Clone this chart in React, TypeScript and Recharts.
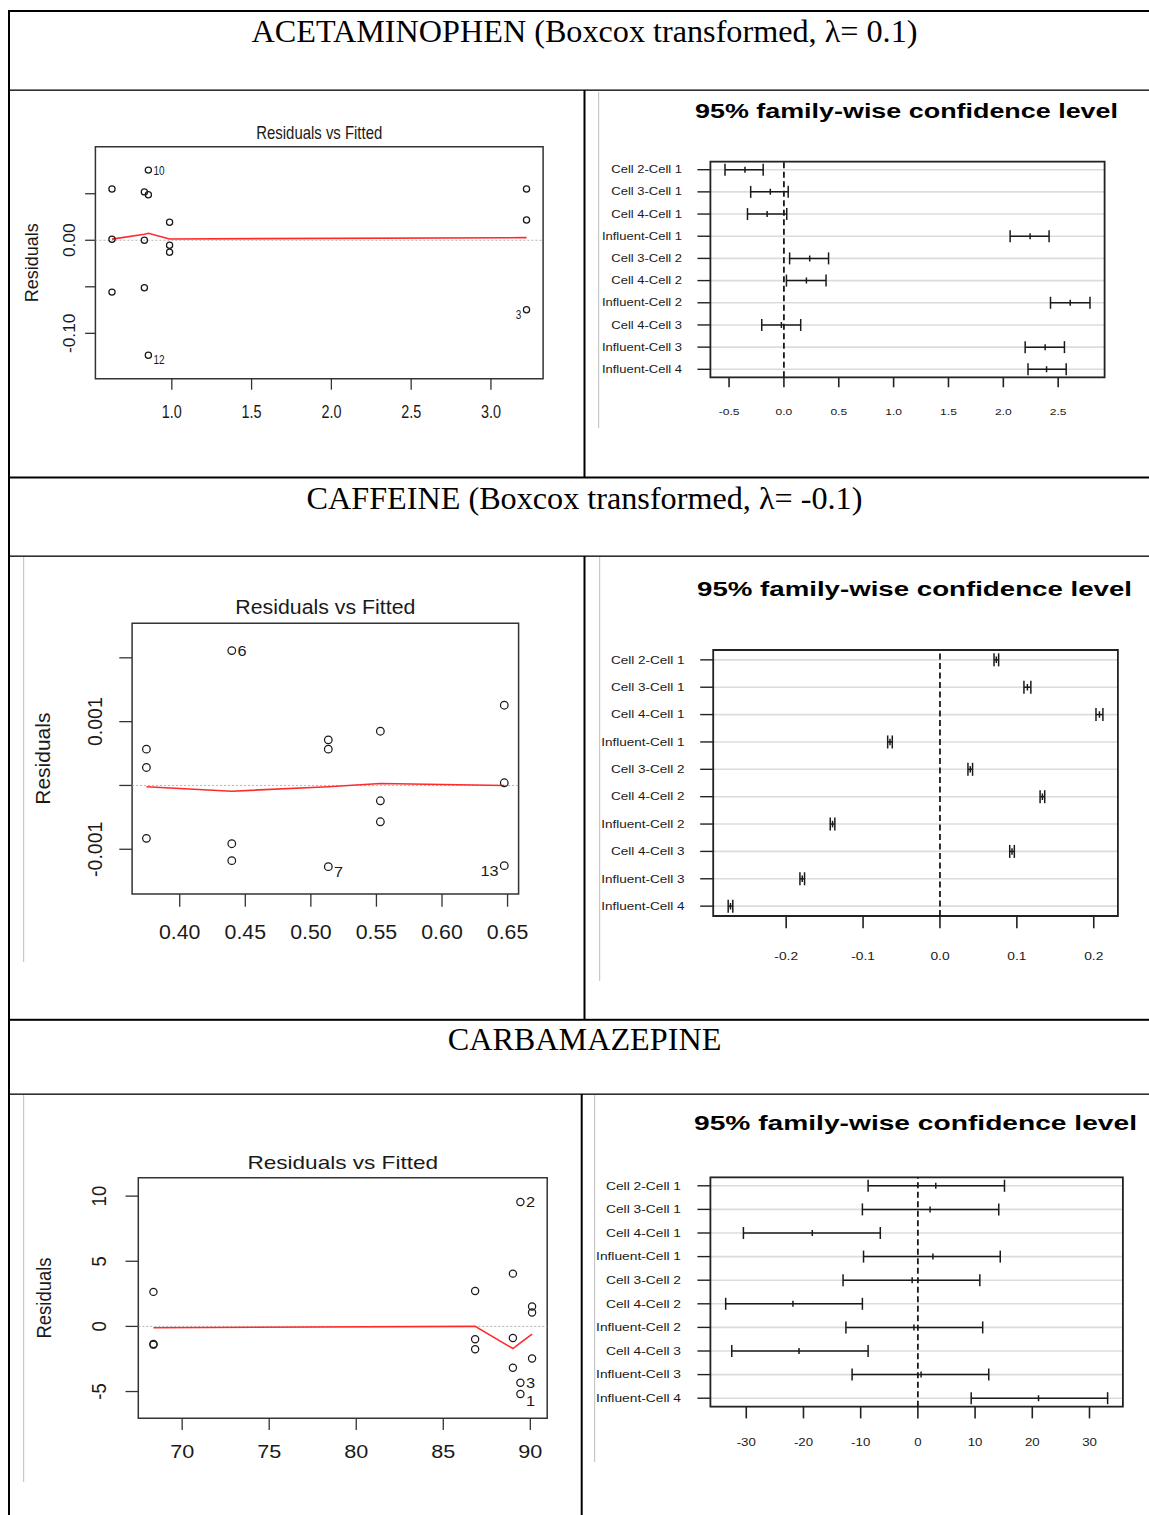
import React from 'react';
import {
  ScatterChart,
  Scatter,
  XAxis,
  YAxis,
  ReferenceLine,
  ReferenceArea,
  CartesianGrid,
  ErrorBar,
} from 'recharts';

const SANS = '"Liberation Sans", Arial, Helvetica, sans-serif';
const SERIF = '"Liberation Serif", "Times New Roman", Times, serif';
const INK = '#1a1a1a';

// ---------------- captions ----------------
const rowTitles = [
  'ACETAMINOPHEN (Boxcox transformed, λ= 0.1)',
  'CAFFEINE (Boxcox transformed, λ= -0.1)',
  'CARBAMAZEPINE',
];
const residualsTitle = 'Residuals vs Fitted';
const residualsAxisTitle = 'Residuals';
const tukeyTitle = '95% family-wise confidence level';

// ---------------- Tukey comparisons ----------------
const comparisons = [
  'Cell 2-Cell 1',
  'Cell 3-Cell 1',
  'Cell 4-Cell 1',
  'Influent-Cell 1',
  'Cell 3-Cell 2',
  'Cell 4-Cell 2',
  'Influent-Cell 2',
  'Cell 4-Cell 3',
  'Influent-Cell 3',
  'Influent-Cell 4',
];

// ---------------- ACETAMINOPHEN ----------------
const acetFitted = [0.625, 0.625, 0.625, 0.828, 0.828, 0.828, 0.853, 0.853, 0.853, 0.986, 0.986, 0.986, 3.223, 3.223, 3.223];
const acetResiduals = [0.055, 0.001, -0.0557, 0.052, 0.0, -0.051, 0.049, 0.0754, -0.1236, 0.0193, -0.0054, -0.0129, 0.055, 0.0218, -0.0746];
const acetIdLabels = [
  { index: 7, text: '10', side: 'right' },
  { index: 8, text: '12', side: 'right' },
  { index: 14, text: '3', side: 'left' },
];
const acetSmoothX = [0.625, 0.828, 0.853, 0.986, 3.223];
const acetSmoothY = [0.0012, 0.0065, 0.0075, 0.0014, 0.0028];
const acetResXTicks = [1, 1.5, 2, 2.5, 3];
const acetResXLabels = ['1.0', '1.5', '2.0', '2.5', '3.0'];
const acetResYTicks = [-0.1, -0.05, 0, 0.05];
const acetResYLabels = ['-0.10', '', '0.00', ''];

const acetLwr = [-0.537, -0.303, -0.332, 2.062, 0.052, 0.023, 2.43, -0.202, 2.199, 2.225];
const acetDiff = [-0.355, -0.124, -0.153, 2.244, 0.235, 0.205, 2.61, -0.023, 2.381, 2.394];
const acetUpr = [-0.189, 0.039, 0.026, 2.417, 0.407, 0.384, 2.79, 0.153, 2.557, 2.573];
const acetTukeyTicks = [-0.5, 0, 0.5, 1, 1.5, 2, 2.5];
const acetTukeyLabels = ['-0.5', '0.0', '0.5', '1.0', '1.5', '2.0', '2.5'];

// ---------------- CAFFEINE ----------------
const caffFitted = [0.3746, 0.3746, 0.3746, 0.4397, 0.4397, 0.4397, 0.5133, 0.5133, 0.5133, 0.553, 0.553, 0.553, 0.6475, 0.6475, 0.6475];
const caffResiduals = [0.000569, 0.000282, -0.000829, 0.002113, -0.000913, -0.001179, 0.000715, 0.000569, -0.001273, 0.00085, -0.00024, -0.000569, 0.001257, 0.0000417, -0.001257];
const caffIdLabels = [
  { index: 3, text: '6', side: 'right' },
  { index: 8, text: '7', side: 'right' },
  { index: 14, text: '13', side: 'left' },
];
const caffSmoothX = [0.3746, 0.4397, 0.5133, 0.553, 0.6475];
const caffSmoothY = [-0.00002, -0.00009, -0.00002, 0.00003, 0.0];
const caffResXTicks = [0.4, 0.45, 0.5, 0.55, 0.6, 0.65];
const caffResXLabels = ['0.40', '0.45', '0.50', '0.55', '0.60', '0.65'];
const caffResYTicks = [-0.001, 0, 0.001, 0.002];
const caffResYLabels = ['-0.001', '', '0.001', ''];

const caffLwr = [0.0703, 0.1092, 0.2029, -0.068, 0.0364, 0.1302, -0.1427, 0.0907, -0.1821, -0.2754];
const caffDiff = [0.0733, 0.1137, 0.2074, -0.065, 0.0394, 0.1332, -0.1397, 0.0937, -0.1791, -0.2724];
const caffUpr = [0.0763, 0.1182, 0.2119, -0.062, 0.0424, 0.1362, -0.1367, 0.0967, -0.1761, -0.2694];
const caffTukeyTicks = [-0.2, -0.1, 0, 0.1, 0.2];
const caffTukeyLabels = ['-0.2', '-0.1', '0.0', '0.1', '0.2'];

// ---------------- CARBAMAZEPINE ----------------
const carbFitted = [68.35, 68.35, 68.35, 86.83, 86.83, 86.83, 89.0, 89.0, 89.0, 89.43, 89.43, 89.43, 90.1, 90.1, 90.1];
const carbResiduals = [2.65, -1.35, -1.4, 2.72, -0.99, -1.76, 4.05, -0.89, -3.18, 9.55, -4.33, -5.19, 1.53, 1.07, -2.47];
const carbIdLabels = [
  { index: 9, text: '2', side: 'right' },
  { index: 10, text: '3', side: 'right', shift: -4 },
  { index: 11, text: '1', side: 'right', shift: 2 },
];
const carbSmoothX = [68.35, 86.83, 89.0, 89.43, 90.1];
const carbSmoothY = [-0.1, 0.0, -1.7, -1.27, -0.6];
const carbResXTicks = [70, 75, 80, 85, 90];
const carbResXLabels = ['70', '75', '80', '85', '90'];
const carbResYTicks = [-5, 0, 5, 10];
const carbResYLabels = ['-5', '0', '5', '10'];

const carbLwr = [-8.7, -9.7, -30.5, -9.5, -13.08, -33.6, -12.58, -32.54, -11.5, 9.32];
const carbDiff = [3.13, 2.13, -18.46, 2.63, -1.0, -21.84, -0.69, -20.78, 0.56, 21.09];
const carbUpr = [15.14, 14.14, -6.57, 14.4, 10.83, -9.7, 11.33, -8.7, 12.39, 33.17];
const carbTukeyTicks = [-30, -20, -10, 0, 10, 20, 30];
const carbTukeyLabels = ['-30', '-20', '-10', '0', '10', '20', '30'];

// ---------------- layout (page pixels) ----------------
const acetResGeom = {
  L: 10, T: 92, W: 574, H: 384,
  box: { l: 95.4, r: 543.1, t: 146.7, b: 378.7 },
  xTickLen: 11, yTickLen: 10.3, xLabBase: 418.3, yLabBaseX: 75.3,
  tickFont: 18, rotFont: 17.3, hsx: 0.8, rsx: 1.0,
  titleFont: 18.5, titleBase: 139.3, titleWidth: 126,
  axisTitleX: 37.5, axisTitleFont: 18, r: 3.1, idFont: 12.5,
};
const caffResGeom = {
  L: 10, T: 558, W: 574, H: 460,
  box: { l: 132.1, r: 518.6, t: 623.3, b: 894 },
  xTickLen: 12.7, yTickLen: 12.8, xLabBase: 939, yLabBaseX: 102.4,
  tickFont: 20.3, rotFont: 19.5, hsx: 1.05, rsx: 1.0,
  titleFont: 20.5, titleBase: 614, titleWidth: 180,
  axisTitleX: 50.3, axisTitleFont: 21, r: 3.8, idFont: 15.5,
};
const carbResGeom = {
  L: 10, T: 1096, W: 570, H: 419,
  box: { l: 138.3, r: 547.2, t: 1177.7, b: 1418.3 },
  xTickLen: 11.7, yTickLen: 12.8, xLabBase: 1458.3, yLabBaseX: 106,
  tickFont: 18.5, rotFont: 18.5, hsx: 1.17, rsx: 1.1,
  titleFont: 19, titleBase: 1169.3, titleWidth: 190.7,
  axisTitleX: 51, axisTitleFont: 18.5, r: 3.6, idFont: 14,
};

const acetTukeyGeom = {
  L: 600, T: 92, W: 549, H: 384,
  box: { l: 710.4, r: 1104.6, t: 161.7, b: 377.3 },
  xTickLen: 10, yTickLen: 13, xLabBase: 415, yLabEndX: 682,
  tickFont: 9.3, rowFont: 10, hsx: 1.3,
  titleFont: 19.5, titleBase: 117.5, titleCenter: 906.5, titleWidth: 423, cap: 6,
};
const caffTukeyGeom = {
  L: 600, T: 558, W: 549, H: 460,
  box: { l: 713.2, r: 1117.9, t: 650, b: 916 },
  xTickLen: 12.3, yTickLen: 13, xLabBase: 960, yLabEndX: 684.6,
  tickFont: 10.6, rowFont: 10.4, hsx: 1.3,
  titleFont: 19.5, titleBase: 596, titleCenter: 914.5, titleWidth: 435, cap: 6.5,
};
const carbTukeyGeom = {
  L: 596, T: 1096, W: 553, H: 419,
  box: { l: 710.4, r: 1122.9, t: 1177.3, b: 1406.7 },
  xTickLen: 11.7, yTickLen: 13, xLabBase: 1445.7, yLabEndX: 681,
  tickFont: 10.2, rowFont: 10.6, hsx: 1.3,
  titleFont: 19.5, titleBase: 1129.5, titleCenter: 915.5, titleWidth: 443, cap: 6,
};

// ---------------- helpers ----------------
const extendRange = (lo: number, hi: number, f: number): [number, number] => {
  const d = (hi - lo) * f;
  return [lo - d, hi + d];
};
const labelFor = (ticks: number[], labels: string[], v: number) => {
  const k = ticks.findIndex((t) => Math.abs(t - v) < 1e-9);
  return k >= 0 ? labels[k] : '';
};
const emptyShape = () => <g />;

function ResidualPanel(props: any) {
  const { g, fitted, residuals, idLabels, smoothX, smoothY, xTicks, xTickLabels, yTicks, yTickLabels } = props;
  const points = fitted.map((x: number, i: number) => ({
    x,
    y: residuals[i],
    id: idLabels.find((d: any) => d.index === i) || null,
  }));
  const smooth = smoothX.map((x: number, i: number) => ({ x, y: smoothY[i] }));
  const xDomain = extendRange(Math.min(...fitted), Math.max(...fitted), 0.04);
  const yBase = extendRange(Math.min(...residuals), Math.max(...residuals), 0.08);
  const yDomain = extendRange(yBase[0], yBase[1], 0.04);
  const margin = { top: g.box.t - g.T, right: g.L + g.W - g.box.r, bottom: 0, left: 0 };

  const xTick = (p: any) => (
    <g transform={`translate(${p.x},${g.xLabBase - g.T}) scale(${g.hsx},1)`}>
      <text x={0} y={0} textAnchor="middle" fontFamily={SANS} fontSize={g.tickFont} fill={INK}>
        {labelFor(xTicks, xTickLabels, p.payload.value)}
      </text>
    </g>
  );
  const yTick = (p: any) => (
    <g transform={`translate(${g.yLabBaseX - g.L},${p.y}) scale(${g.rsx},1) rotate(-90)`}>
      <text x={0} y={0} textAnchor="middle" fontFamily={SANS} fontSize={g.rotFont} fill={INK}>
        {labelFor(yTicks, yTickLabels, p.payload.value)}
      </text>
    </g>
  );
  const pointShape = (p: any) => {
    const d = p.payload;
    const id = d.id;
    const right = id && id.side === 'right';
    const lx = right ? p.cx + g.r + 2 : p.cx - g.r - 2;
    const ly = p.cy + (d.y < 0 ? 4.5 : 0) + (id && id.shift ? id.shift : 0);
    return (
      <g>
        <circle cx={p.cx} cy={p.cy} r={g.r} fill="none" stroke={INK} strokeWidth={1.25} />
        {id ? (
          <g transform={`translate(${lx},${ly}) scale(${g.hsx},1)`}>
            <text x={0} y={0} dy="0.36em" textAnchor={right ? 'start' : 'end'} fontFamily={SANS} fontSize={g.idFont} fill={INK}>
              {id.text}
            </text>
          </g>
        ) : null}
      </g>
    );
  };

  return (
    <div style={{ position: 'absolute', left: g.L, top: g.T, width: g.W, height: g.H }}>
      <ScatterChart width={g.W} height={g.H} margin={margin}>
        <XAxis
          type="number"
          dataKey="x"
          domain={xDomain}
          ticks={xTicks}
          interval={0}
          allowDataOverflow
          height={g.T + g.H - g.box.b}
          axisLine={false}
          tickSize={g.xTickLen}
          tickMargin={0}
          tickLine={{ stroke: '#333', strokeWidth: 1.3 }}
          tick={xTick}
        />
        <YAxis
          type="number"
          dataKey="y"
          domain={yDomain}
          ticks={yTicks}
          interval={0}
          allowDataOverflow
          width={g.box.l - g.L}
          axisLine={false}
          tickSize={g.yTickLen}
          tickMargin={0}
          tickLine={{ stroke: '#333', strokeWidth: 1.3 }}
          tick={yTick}
        />
        <ReferenceLine y={0} stroke="#b4b4b4" strokeWidth={1} strokeDasharray="2 2" ifOverflow="visible" />
        <Scatter
          data={smooth}
          line={{ stroke: '#ff2a2a', strokeWidth: 1.6 }}
          lineType="joint"
          shape={emptyShape}
          isAnimationActive={false}
        />
        <Scatter data={points} shape={pointShape} isAnimationActive={false} />
        <ReferenceArea
          x1={xDomain[0]}
          x2={xDomain[1]}
          y1={yDomain[0]}
          y2={yDomain[1]}
          fill="none"
          fillOpacity={0}
          stroke="#333"
          strokeWidth={1.5}
          ifOverflow="visible"
        />
      </ScatterChart>
    </div>
  );
}

function TukeyPanel(props: any) {
  const { g, lwr, diff, upr, xTicks, xTickLabels } = props;
  const rows = comparisons.map((name, i) => ({
    name,
    y: i + 1,
    x: diff[i],
    err: [diff[i] - lwr[i], upr[i] - diff[i]],
  }));
  const rowTicks = comparisons.map((_, i) => i + 1);
  const xDomain = extendRange(Math.min(...lwr), Math.max(...upr), 0.04);
  const yDomain = extendRange(1, comparisons.length, 0.04);
  const margin = { top: g.box.t - g.T, right: g.L + g.W - g.box.r, bottom: 0, left: 0 };

  const xTick = (p: any) => (
    <g transform={`translate(${p.x},${g.xLabBase - g.T}) scale(${g.hsx},1)`}>
      <text x={0} y={0} textAnchor="middle" fontFamily={SANS} fontSize={g.tickFont} fill={INK}>
        {labelFor(xTicks, xTickLabels, p.payload.value)}
      </text>
    </g>
  );
  const yTick = (p: any) => (
    <g transform={`translate(${g.yLabEndX - g.L},${p.y}) scale(${g.hsx},1)`}>
      <text x={0} y={0} dy="0.36em" textAnchor="end" fontFamily={SANS} fontSize={g.rowFont} fill={INK}>
        {comparisons[Math.round(p.payload.value) - 1]}
      </text>
    </g>
  );
  const midShape = (p: any) => (
    <line x1={p.cx} x2={p.cx} y1={p.cy - g.cap / 2} y2={p.cy + g.cap / 2} stroke={INK} strokeWidth={1.5} />
  );

  return (
    <div style={{ position: 'absolute', left: g.L, top: g.T, width: g.W, height: g.H }}>
      <ScatterChart width={g.W} height={g.H} margin={margin}>
        <CartesianGrid vertical={false} stroke="#dcdcdc" strokeWidth={1.6} />
        <XAxis
          type="number"
          dataKey="x"
          domain={xDomain}
          ticks={xTicks}
          interval={0}
          allowDataOverflow
          height={g.T + g.H - g.box.b}
          axisLine={false}
          tickSize={g.xTickLen}
          tickMargin={0}
          tickLine={{ stroke: '#222', strokeWidth: 1.6 }}
          tick={xTick}
        />
        <YAxis
          type="number"
          dataKey="y"
          domain={yDomain}
          reversed
          ticks={rowTicks}
          interval={0}
          allowDataOverflow
          width={g.box.l - g.L}
          axisLine={false}
          tickSize={g.yTickLen}
          tickMargin={0}
          tickLine={{ stroke: '#222', strokeWidth: 1.4 }}
          tick={yTick}
        />
        <ReferenceLine x={0} stroke={INK} strokeWidth={1.8} strokeDasharray="6 3.5" ifOverflow="visible" />
        <Scatter data={rows} shape={midShape} isAnimationActive={false}>
          <ErrorBar dataKey="err" direction="x" width={g.cap} stroke={INK} strokeWidth={1.5} isAnimationActive={false} />
        </Scatter>
        <ReferenceArea
          x1={xDomain[0]}
          x2={xDomain[1]}
          y1={yDomain[0]}
          y2={yDomain[1]}
          fill="none"
          fillOpacity={0}
          stroke="#222"
          strokeWidth={1.8}
          ifOverflow="visible"
        />
      </ScatterChart>
    </div>
  );
}

// table rules and image-edge lines (page layout)
const blackRules = [
  [8, 10, 1141, 2],
  [8, 10, 2, 1505],
  [10, 89.5, 1139, 1.3],
  [10, 476.5, 1139, 2],
  [10, 555.5, 1139, 1.3],
  [10, 1018.8, 1139, 2],
  [10, 1093.5, 1139, 1.3],
  [583.5, 90, 2, 387],
  [583.5, 556, 2, 463],
  [580.7, 1094, 2, 421],
];
const grayRules = [
  [598, 92, 1.2, 336],
  [23, 557, 1.2, 405],
  [599, 557, 1.2, 424],
  [23, 1095, 1.2, 387],
  [594, 1095, 1.2, 367],
];
const rowTitleBaselines = [42, 508.5, 1050];

function Overlay() {
  const resGeoms = [acetResGeom, caffResGeom, carbResGeom];
  const tukGeoms = [acetTukeyGeom, caffTukeyGeom, carbTukeyGeom];
  return (
    <svg
      width={1149}
      height={1515}
      style={{ position: 'absolute', left: 0, top: 0, pointerEvents: 'none' }}
    >
      {blackRules.map((r, i) => (
        <rect key={`b${i}`} x={r[0]} y={r[1]} width={r[2]} height={r[3]} fill="#000" />
      ))}
      {grayRules.map((r, i) => (
        <rect key={`g${i}`} x={r[0]} y={r[1]} width={r[2]} height={r[3]} fill="#c8c8c8" />
      ))}
      {rowTitles.map((t, i) => (
        <text
          key={`t${i}`}
          x={584.5}
          y={rowTitleBaselines[i]}
          textAnchor="middle"
          fontFamily={SERIF}
          fontSize={32.2}
          fill="#000"
        >
          {t}
        </text>
      ))}
      {resGeoms.map((g, i) => (
        <g key={`r${i}`}>
          <text
            x={(g.box.l + g.box.r) / 2}
            y={g.titleBase}
            textAnchor="middle"
            fontFamily={SANS}
            fontSize={g.titleFont}
            textLength={g.titleWidth}
            lengthAdjust="spacingAndGlyphs"
            fill={INK}
          >
            {residualsTitle}
          </text>
          <g transform={`translate(${g.axisTitleX},${(g.box.t + g.box.b) / 2}) scale(${g.rsx},1) rotate(-90)`}>
            <text x={0} y={0} textAnchor="middle" fontFamily={SANS} fontSize={g.axisTitleFont} fill={INK}>
              {residualsAxisTitle}
            </text>
          </g>
        </g>
      ))}
      {tukGeoms.map((g, i) => (
        <text
          key={`k${i}`}
          x={g.titleCenter}
          y={g.titleBase}
          textAnchor="middle"
          fontFamily={SANS}
          fontWeight="bold"
          fontSize={g.titleFont}
          textLength={g.titleWidth}
          lengthAdjust="spacingAndGlyphs"
          fill="#000"
        >
          {tukeyTitle}
        </text>
      ))}
    </svg>
  );
}

export default function App() {
  return (
    <div style={{ position: 'absolute', left: 0, top: 0, width: 1149, height: 1515, background: '#fff', overflow: 'hidden' }}>
      <ResidualPanel
        g={acetResGeom}
        fitted={acetFitted}
        residuals={acetResiduals}
        idLabels={acetIdLabels}
        smoothX={acetSmoothX}
        smoothY={acetSmoothY}
        xTicks={acetResXTicks}
        xTickLabels={acetResXLabels}
        yTicks={acetResYTicks}
        yTickLabels={acetResYLabels}
      />
      <TukeyPanel g={acetTukeyGeom} lwr={acetLwr} diff={acetDiff} upr={acetUpr} xTicks={acetTukeyTicks} xTickLabels={acetTukeyLabels} />
      <ResidualPanel
        g={caffResGeom}
        fitted={caffFitted}
        residuals={caffResiduals}
        idLabels={caffIdLabels}
        smoothX={caffSmoothX}
        smoothY={caffSmoothY}
        xTicks={caffResXTicks}
        xTickLabels={caffResXLabels}
        yTicks={caffResYTicks}
        yTickLabels={caffResYLabels}
      />
      <TukeyPanel g={caffTukeyGeom} lwr={caffLwr} diff={caffDiff} upr={caffUpr} xTicks={caffTukeyTicks} xTickLabels={caffTukeyLabels} />
      <ResidualPanel
        g={carbResGeom}
        fitted={carbFitted}
        residuals={carbResiduals}
        idLabels={carbIdLabels}
        smoothX={carbSmoothX}
        smoothY={carbSmoothY}
        xTicks={carbResXTicks}
        xTickLabels={carbResXLabels}
        yTicks={carbResYTicks}
        yTickLabels={carbResYLabels}
      />
      <TukeyPanel g={carbTukeyGeom} lwr={carbLwr} diff={carbDiff} upr={carbUpr} xTicks={carbTukeyTicks} xTickLabels={carbTukeyLabels} />
      <Overlay />
    </div>
  );
}
